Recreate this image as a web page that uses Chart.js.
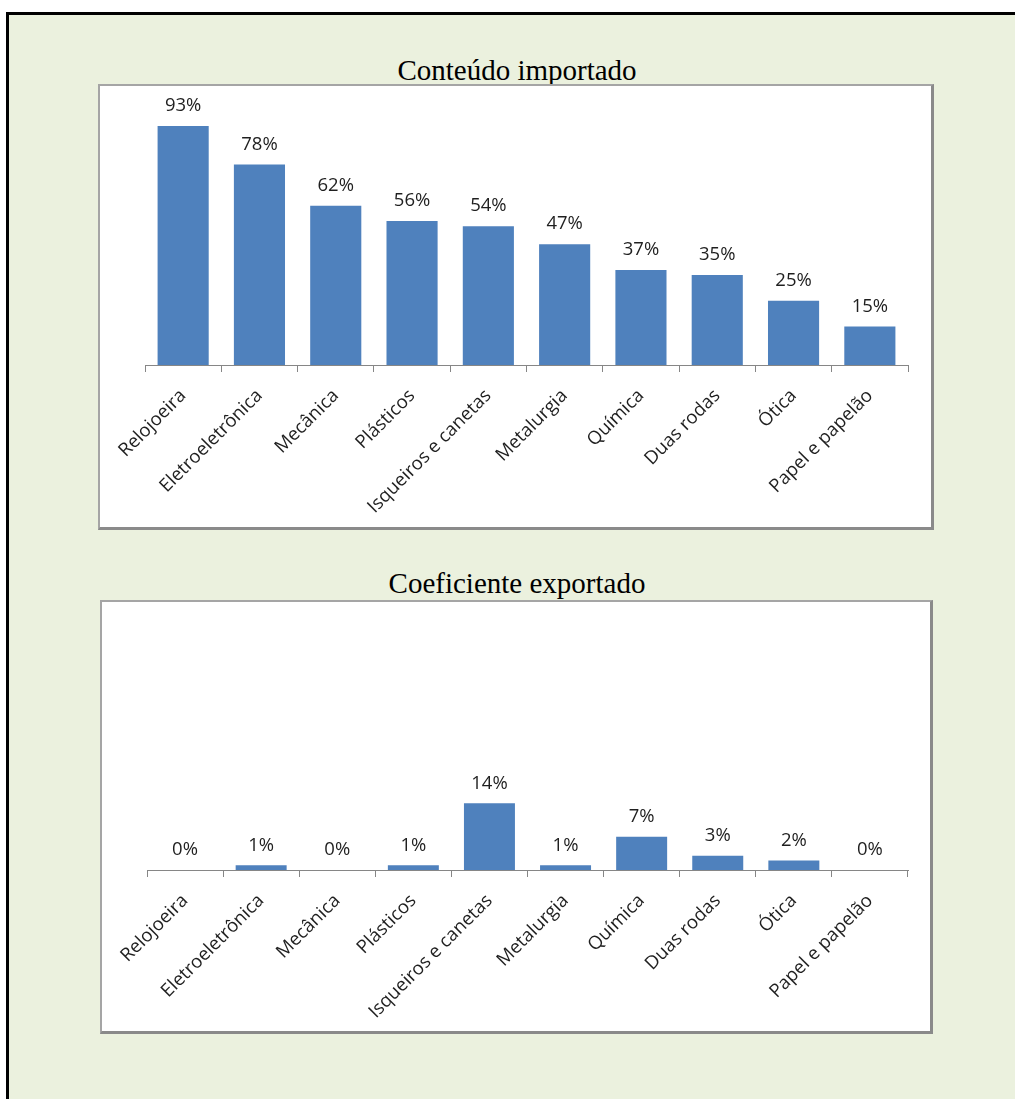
<!DOCTYPE html>
<html lang="pt">
<head>
<meta charset="utf-8">
<title>Conteúdo importado e coeficiente exportado</title>
<script src="https://cdn.jsdelivr.net/npm/chart.js@4"></script>
<style>
  html, body { margin: 0; padding: 0; background: #fff; }
  body { width: 1015px; height: 1099px; position: relative; overflow: hidden; }
  .frame {
    position: absolute; left: 6px; top: 12px; width: 1100px; height: 1200px;
    border: 3px solid #000; background: #ebf1de;
  }
  .box {
    position: absolute; background: #fff;
    border: 2px solid #a5a5a5;
    border-right: 3px solid #8a8a8a; border-bottom: 3px solid #8a8a8a;
    box-sizing: border-box;
  }
  .title {
    position: absolute; left: 0; width: 1034px; text-align: center;
    font-family: 'Liberation Serif', 'Times New Roman', serif;
    font-size: 29px; line-height: 34px; color: #000;
  }
  canvas { position: absolute; }
</style>
</head>
<body>
<div class="frame"></div>
<div class="title" style="top:53px;">Conteúdo importado</div>
<div class="title" style="top:566px;">Coeficiente exportado</div>
<div class="box" style="left:98px;top:84px;width:836px;height:446px;"></div>
<div class="box" style="left:100px;top:600px;width:833px;height:434px;"></div>
<canvas id="chart-importado" width="834" height="445" style="left:99px;top:84px;"></canvas>
<canvas id="chart-exportado" width="832" height="432" style="left:100px;top:600px;"></canvas>

<script>
// setores
const categories = ['Relojoeira', 'Eletroeletrônica', 'Mecânica', 'Plásticos', 'Isqueiros e canetas',
                    'Metalurgia', 'Química', 'Duas rodas', 'Ótica', 'Papel e papelão'];

// % de conteúdo importado
const importado = [93, 78, 62, 56, 54, 47, 37, 35, 25, 15];

// % exportado
const exportado = [0, 1, 0, 1, 14, 1, 7, 3, 2, 0];

const BAR_COLOR = '#4f81bd';
const AXIS_COLOR = '#868686';
const TEXT_COLOR = '#1f1f1f';

Chart.defaults.font.family = "'Open Sans', sans-serif";
Chart.defaults.color = TEXT_COLOR;

// value labels above each bar
const barLabels = {
    id: 'barLabels',
    afterDatasetsDraw(chart) {
        const ctx = chart.ctx;
        const ds = chart.data.datasets[0];
        const meta = chart.getDatasetMeta(0);
        ctx.save();
        ctx.font = "18.5px 'Open Sans', sans-serif";
        ctx.fillStyle = TEXT_COLOR;
        ctx.textAlign = 'center';
        ctx.textBaseline = 'middle';
        meta.data.forEach((bar, i) => {
            ctx.fillText(ds.data[i] + '%', bar.x, bar.y - 20);
        });
        ctx.restore();
    }
};

function makeChart(id, values, opts) {
    const el = document.getElementById(id);
    return new Chart(el, {
        type: 'bar',
        data: {
            labels: categories,
            datasets: [{
                data: values,
                backgroundColor: BAR_COLOR,
                borderWidth: 0,
                categoryPercentage: 1,
                barPercentage: 0.67
            }]
        },
        options: {
            responsive: false,
            animation: false,
            layout: { padding: { left: opts.left, right: opts.right, top: opts.top, bottom: 0 } },
            plugins: {
                legend: { display: false },
                tooltip: { enabled: false }
            },
            scales: {
                x: {
                    grid: {
                        offset: true,
                        drawOnChartArea: false,
                        drawTicks: true,
                        tickLength: 7,
                        color: AXIS_COLOR
                    },
                    border: { display: true, color: AXIS_COLOR, width: 1 },
                    ticks: {
                        autoSkip: false,
                        maxRotation: 45,
                        minRotation: 45,
                        padding: 13,
                        color: TEXT_COLOR,
                        font: { size: 18.5 }
                    },
                    afterFit(scale) { scale.height = opts.axisHeight; }
                },
                y: {
                    display: false,
                    min: 0,
                    max: opts.max
                }
            }
        },
        plugins: [barLabels]
    });
}

makeChart('chart-importado', importado, {
    left: 46, right: 25, top: 24, axisHeight: 164, max: 100
});

makeChart('chart-exportado', exportado, {
    left: 47, right: 24, top: 32, axisHeight: 162, max: 50
});
</script>
</body>
</html>
